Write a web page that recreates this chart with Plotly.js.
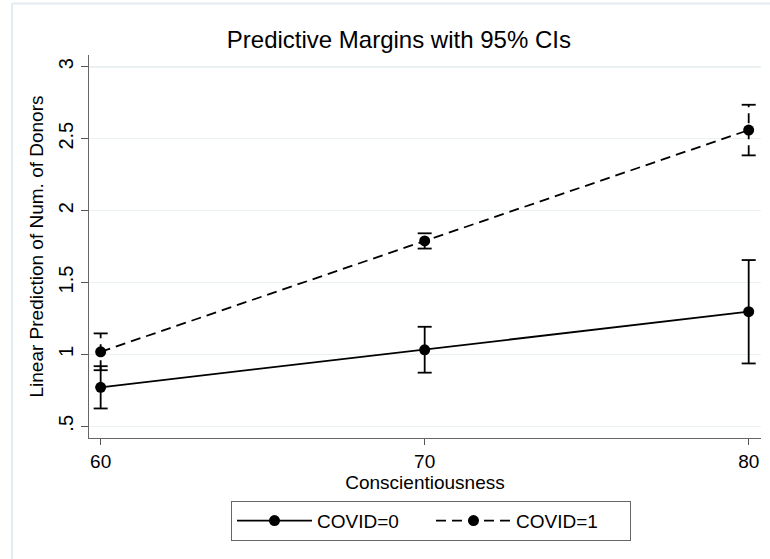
<!DOCTYPE html>
<html>
<head>
<meta charset="utf-8">
<script src="https://cdn.plot.ly/plotly-3.0.1.min.js"></script>
<style>
  html, body { margin: 0; padding: 0; background: #ffffff; }
  #chart { width: 770px; height: 559px; }
</style>
</head>
<body>
<div id="chart"></div>
<script>
// ---- data ----
const conscientiousness = [60, 70, 80];
const covid0Margin = [0.771, 1.032, 1.297];
const covid0Lower  = [0.624, 0.873, 0.937];
const covid0Upper  = [0.918, 1.192, 1.656];
const covid1Margin = [1.018, 1.789, 2.560];
const covid1Lower  = [0.890, 1.736, 2.384];
const covid1Upper  = [1.146, 1.842, 2.736];
const seriesNames  = ['COVID=0', 'COVID=1'];
const yTickVals    = [0.5, 1, 1.5, 2, 2.5, 3];
const yTickText    = ['.5', '1', '1.5', '2', '2.5', '3'];
const xTickVals    = [60, 70, 80];

const FONT = 'Liberation Sans, Arial, sans-serif';
const BLACK = '#000000';

function ciSegments(xs, lo, hi) {
  const X = [], Y = [];
  xs.forEach((x, i) => { X.push(x, x, null); Y.push(lo[i], hi[i], null); });
  return {X, Y};
}
function capPoints(xs, lo, hi) {
  return {X: xs.concat(xs), Y: lo.concat(hi)};
}

function ciTraces(lo, hi, dash) {
  const seg = ciSegments(conscientiousness, lo, hi);
  const cap = capPoints(conscientiousness, lo, hi);
  return [
    {x: seg.X, y: seg.Y, type: 'scatter', mode: 'lines', showlegend: false, hoverinfo: 'skip',
     line: {color: BLACK, width: 1.8, dash: dash}},
    {x: cap.X, y: cap.Y, type: 'scatter', mode: 'markers', showlegend: false, hoverinfo: 'skip',
     marker: {symbol: 'line-ew', size: 10, color: BLACK, line: {color: BLACK, width: 1.8}}}
  ];
}

const dashPat = '10px,6px';
const traces = [
  ...ciTraces(covid0Lower, covid0Upper, 'solid'),
  ...ciTraces(covid1Lower, covid1Upper, dashPat),
  {x: conscientiousness, y: covid0Margin, name: seriesNames[0], type: 'scatter', mode: 'lines+markers',
   line: {color: BLACK, width: 1.8, dash: 'solid'}, marker: {color: BLACK, size: 11, symbol: 'circle'}},
  {x: conscientiousness, y: covid1Margin, name: seriesNames[1], type: 'scatter', mode: 'lines+markers',
   line: {color: BLACK, width: 1.8, dash: dashPat}, marker: {color: BLACK, size: 11, symbol: 'circle'}}
];

// plot area in pixels: left 89, right 761, top 55, bottom 437.7
const L = 89, R = 761, T = 55, B = 437.7;
function px2paperX(p) { return (p - L) / (R - L); }
function px2paperY(p) { return (B - p) / (B - T); }

const layout = {
  width: 770, height: 559,
  margin: {l: L, r: 770 - R, t: T, b: 559 - B, pad: 0},
  paper_bgcolor: '#ffffff', plot_bgcolor: '#ffffff',
  font: {family: FONT, color: BLACK, size: 19},
  title: {text: 'Predictive Margins with 95% CIs', font: {family: FONT, size: 24, color: BLACK},
          x: 0.518, xref: 'container', xanchor: 'center', y: 1 - 40 / 559, yref: 'container', yanchor: 'middle'},
  xaxis: {
    range: [59.64, 80.38], tickvals: xTickVals, ticks: 'outside', ticklen: 6, tickwidth: 1, tickcolor: '#555555',
    showline: true, linecolor: '#666666', linewidth: 1, showgrid: false, zeroline: false,
    tickfont: {family: FONT, size: 19, color: BLACK},
    title: {text: 'Conscientiousness', font: {family: FONT, size: 19, color: BLACK}, standoff: 0}
  },
  yaxis: {
    range: [0.4186, 3.082], tickvals: yTickVals, ticktext: yTickText, tickangle: -90,
    ticks: 'outside', ticklen: 7, tickwidth: 1, tickcolor: '#555555',
    showline: true, linecolor: '#666666', linewidth: 1, showgrid: true, gridcolor: '#eaf1f3', gridwidth: 1.5,
    zeroline: false, tickfont: {family: FONT, size: 20, color: BLACK},
    title: {text: 'Linear Prediction of Num. of Donors', font: {family: FONT, size: 19, color: BLACK}, standoff: 6}
  },
  legend: {
    orientation: 'h', xref: 'container', yref: 'container', x: 231 / 770, xanchor: 'left',
    y: 1 - 500.7 / 559, yanchor: 'top', bordercolor: '#666666', borderwidth: 1, bgcolor: '#ffffff',
    font: {family: FONT, size: 19, color: BLACK}, itemwidth: 75, traceorder: 'normal',
    entrywidth: 109, entrywidthmode: 'pixels'
  },
  shapes: [
    {type: 'line', xref: 'paper', yref: 'paper', x0: px2paperX(12), x1: px2paperX(771), y0: px2paperY(3.5), y1: px2paperY(3.5),
     line: {color: '#e4ecf0', width: 2}},
    {type: 'line', xref: 'paper', yref: 'paper', x0: px2paperX(12), x1: px2paperX(12), y0: px2paperY(3.5), y1: px2paperY(560),
     line: {color: '#e4ecf0', width: 2}}
  ],
  showlegend: true
};

Plotly.newPlot('chart', traces, layout, {displayModeBar: false, staticPlot: true});
</script>
</body>
</html>
